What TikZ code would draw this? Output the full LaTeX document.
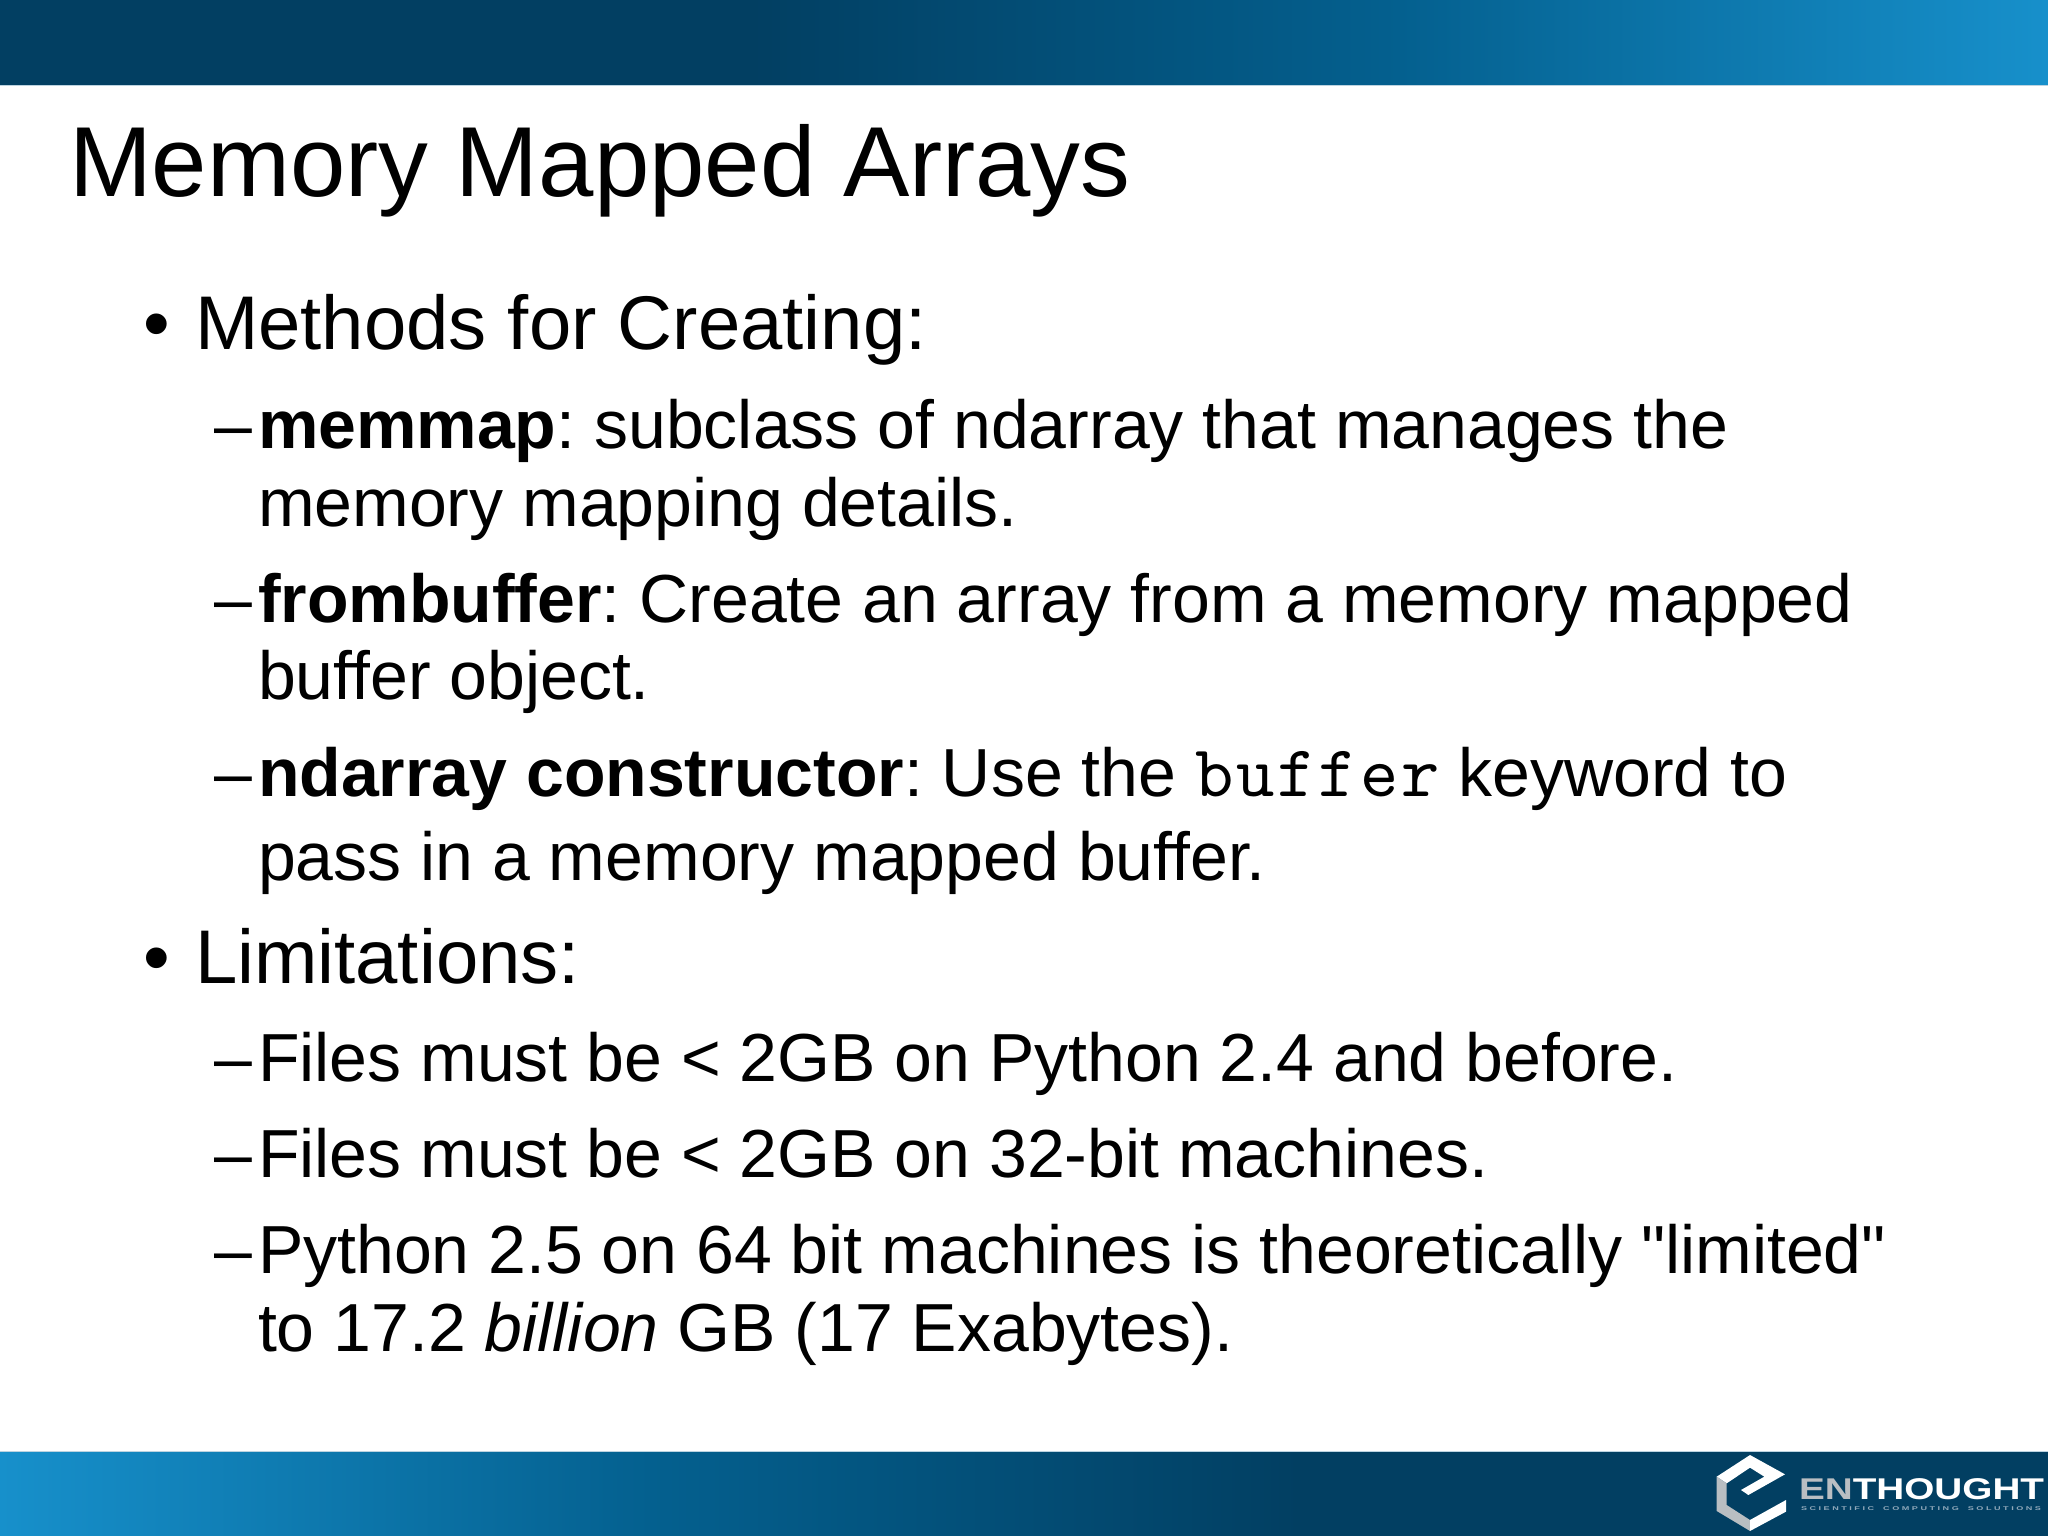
\documentclass[tikz,border=0pt]{standalone}
\usepackage{fontspec}
\setmainfont{Liberation Sans}[Ligatures=TeXOff]
\setmonofont{lmmono10-regular.otf}[LetterSpace=4]
\AtBeginDocument{\frenchspacing}
\definecolor{bardark}{HTML}{023F62}
\definecolor{barmid}{HTML}{04608F}
\definecolor{barlight}{HTML}{1790CB}
\definecolor{logogrey}{HTML}{B9BEC2}
\definecolor{logosub}{HTML}{8FA8BA}
\definecolor{barpale}{HTML}{BCD3E0}
\tikzset{
  every node/.style={inner sep=0pt,outer sep=0pt,anchor=base west,text=black},
  titletext/.style={font=\fontsize{99.5}{99.5}\selectfont},
  mainline/.style={font=\fontsize{76.1}{76.1}\selectfont},
  subline/.style={font=\fontsize{68}{68}\selectfont},
}
\begin{document}
\begin{tikzpicture}[x=1pt,y=-1pt]
\useasboundingbox (0,0) rectangle (2048,1536);
\fill[white] (0,0) rectangle (2048,1536);
% bars
\shade[left color=bardark,right color=barmid] (750,0) rectangle (1400,85);
\fill[bardark] (0,0) rectangle (750.5,85);
\shade[left color=barmid,right color=barlight] (1399.5,0) rectangle (2048,85);
\fill[barpale] (0,85) rectangle (2048,86);
\shade[left color=barlight,right color=barmid] (0,1452) rectangle (650,1536);
\shade[left color=barmid,right color=bardark] (649.5,1452) rectangle (1300,1536);
\fill[bardark] (1299.5,1452) rectangle (2048,1536);
\fill[barpale] (0,1451) rectangle (2048,1452);
% title and text
\node[titletext] (title) at (69,196.5) {Memory Mapped Arrays};
\node[mainline] (b1) at (143.5,349.5) {•};
\node[mainline] (m1) at (195,349.5) {Methods for Creating:};
\node[subline] (d1) at (214.5,448) {–};
\node[subline] (s1) at (258,448) {\textbf{memmap}: subclass of ndarray that manages the};
\node[subline] (s1b) at (258,526) {memory mapping details.};
\node[subline] (d2) at (214.5,622) {–};
\node[subline] (s2) at (258,622) {\textbf{frombuffer}: Create an array from a memory mapped};
\node[subline] (s2b) at (258,699) {buffer object.};
\node[subline] (d3) at (214.5,796) {–};
\node[subline] (s3) at (258,796) {\textbf{ndarray constructor}: Use the {\ttfamily\fontsize{73}{73}\selectfont buffer} keyword to};
\node[subline] (s3b) at (258,880) {pass in a memory mapped buffer.};
\node[mainline] (b2) at (143.5,983) {•};
\node[mainline] (m2) at (195,983) {Limitations:};
\node[subline] (d4) at (214.5,1081) {–};
\node[subline] (s4) at (258,1081) {Files must be < 2GB on Python 2.4 and before.};
\node[subline] (d5) at (214.5,1177) {–};
\node[subline] (s5) at (258,1177) {Files must be < 2GB on 32-bit machines.};
\node[subline] (d6) at (214.5,1273) {–};
\node[subline] (s6) at (258,1273) {Python 2.5 on 64 bit machines is theoretically "limited"};
\node[subline] (s6b) at (258,1351) {to 17.2 \textit{billion} GB (17 Exabytes).};
% logo
\begin{scope}[shift={(1705,1445)},x=0.3333pt,y=-0.3333pt]
\fill[white] (35,95) -- (135,30) -- (240,88) -- (130,150) -- (108,135) -- (178,95) -- (135,68) -- (65,115) -- cycle;
\fill[logogrey] (35,95) -- (65,115) -- (65,180) -- (135,225) -- (135,258) -- (35,198) -- cycle;
\fill[white] (135,225) -- (243,165) -- (243,200) -- (135,258) -- cycle;
\end{scope}
\node[font=\bfseries\fontsize{30}{30}\selectfont,text=logogrey,xscale=1.29] (ltxt) at (1799,1499) {EN\textcolor{white}{THOUGHT}};
\node[font=\bfseries\fontsize{5.5}{5.5}\selectfont,text=logosub,xscale=1.65] (lsub) at (1801,1510) {S C I E N T I F I C\quad C O M P U T I N G\quad S O L U T I O N S};
\end{tikzpicture}
\end{document}
